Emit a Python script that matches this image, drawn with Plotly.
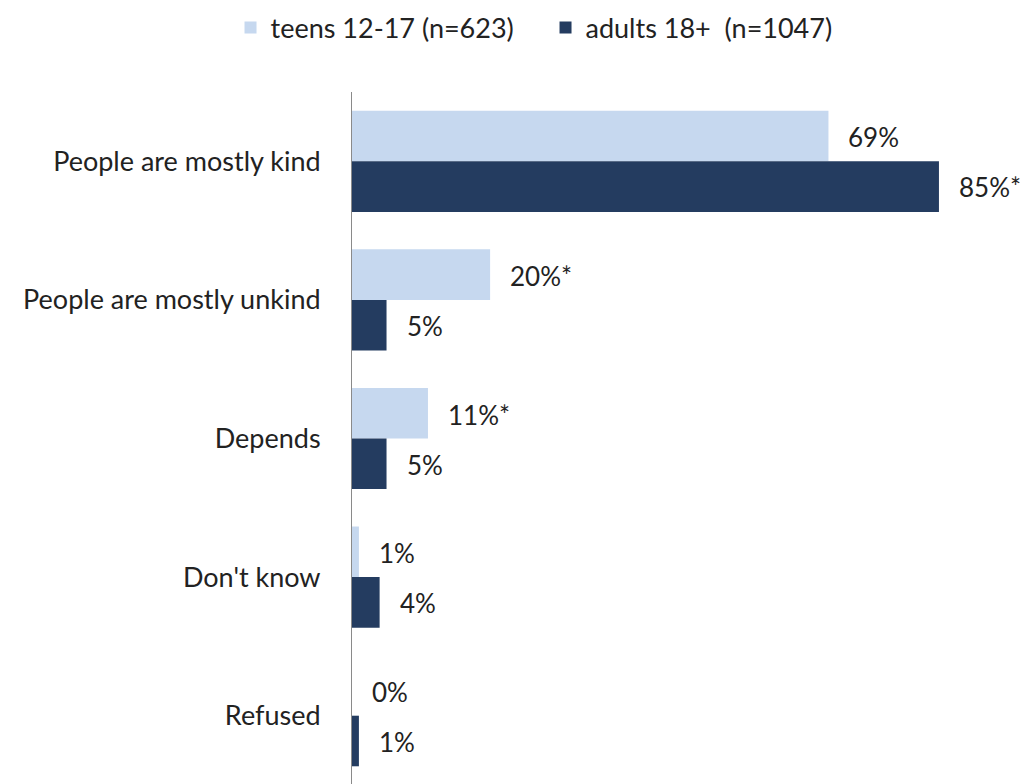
import plotly.graph_objects as go

categories = ["People are mostly kind", "People are mostly unkind", "Depends", "Don't know", "Refused"]
teens = [69, 20, 11, 1, 0]
adults = [85, 5, 5, 4, 1]
teens_labels = ["69%", "20%*", "11%*", "1%", "0%"]
adults_labels = ["85%*", "5%", "5%", "4%", "1%"]
series_names = ["teens 12-17 (n=623)", "adults 18+\u00a0\u00a0(n=1047)"]

FONT = "Lato, 'Open Sans', sans-serif"
TEXT_C = "#222222"
TEEN_C = "#c6d8ef"
ADULT_C = "#243c60"

fig = go.Figure()
fig.add_trace(go.Bar(y=categories, x=teens, orientation="h", name=series_names[0],
                     marker=dict(color=TEEN_C, line=dict(width=0))))
fig.add_trace(go.Bar(y=categories, x=adults, orientation="h", name=series_names[1],
                     marker=dict(color=ADULT_C, line=dict(width=0))))

for vals, labs, ys in ((teens, teens_labels, 24), (adults, adults_labels, -26)):
    for c, v, t in zip(categories, vals, labs):
        fig.add_annotation(x=v, y=c, text=t, showarrow=False, xanchor="left",
                           xshift=18, yshift=ys, font=dict(family=FONT, size=26, color=TEXT_C))

fig.update_layout(
    width=1035, height=784,
    margin=dict(l=344, r=35, t=84, b=7, autoexpand=False),
    paper_bgcolor="white", plot_bgcolor="white",
    barmode="group", bargap=0.27, bargroupgap=0,
    font=dict(family=FONT, size=27, color=TEXT_C),
    showlegend=True,
    legend=dict(orientation="h", x=0.295, xanchor="center",
                yref="container", y=0.9745, yanchor="middle",
                font=dict(family=FONT, size=27, color=TEXT_C), itemwidth=30,
                entrywidth=270, entrywidthmode="pixels"),
    xaxis=dict(range=[0, 95], visible=False, fixedrange=True),
    yaxis=dict(autorange="reversed", showline=True, linecolor="#8a8a8a", linewidth=1,
               ticks="", showgrid=False, ticklabelstandoff=25,
               tickfont=dict(family=FONT, size=27, color=TEXT_C)),
)

fig.write_html("out.html")
